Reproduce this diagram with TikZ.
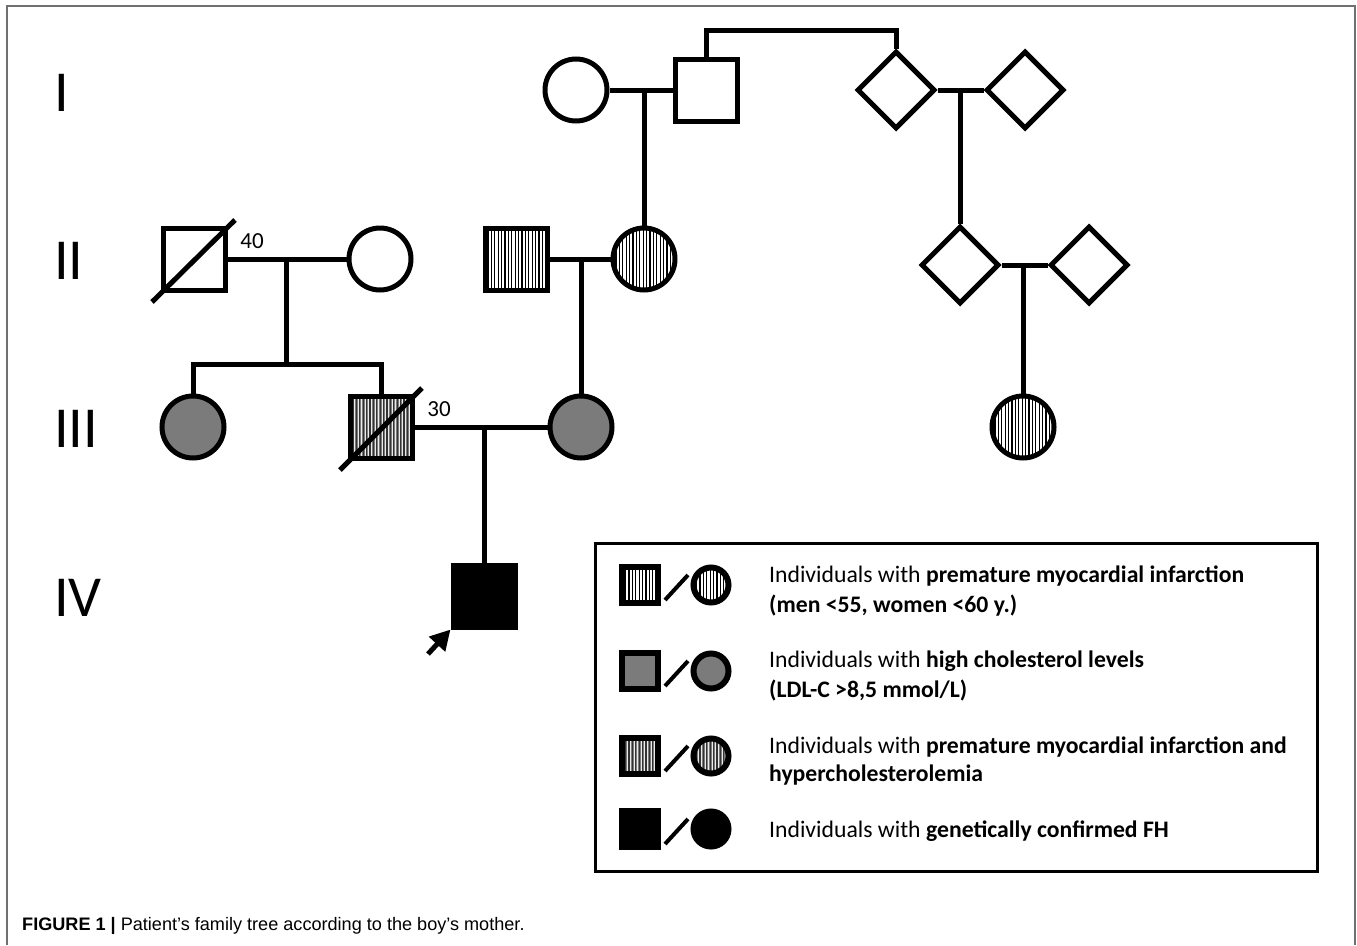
\documentclass[tikz,border=0pt]{standalone}
\usepackage{fontspec}
\setmainfont{Carlito}
\newfontfamily\capfont{Liberation Sans}
\usetikzlibrary{shapes.geometric,arrows.meta}
\definecolor{pgray}{HTML}{7B7B7B}
\definecolor{framegray}{HTML}{707070}
\begin{document}
\begin{tikzpicture}[x=1pt,y=-1pt,
  lw/.style={line width=5pt},
  male/.style={rectangle,draw,line width=5pt,minimum size=62pt,inner sep=0pt,fill=white},
  female/.style={circle,draw,line width=5pt,minimum size=62pt,inner sep=0pt,fill=white},
  unk/.style={diamond,draw,line width=5pt,aspect=1,minimum width=78pt,minimum height=78pt,inner sep=0pt,fill=white},
  stripes/.style={path picture={\foreach \i in {-45,-41.6,...,45} \draw[line width=1.1pt,black] ([xshift=\i pt]path picture bounding box.north) -- ([xshift=\i pt]path picture bounding box.south);}},
  gstripes/.style={fill=pgray,path picture={\foreach \i in {-45,-41.6,...,45} {\draw[line width=1.1pt,black!80] ([xshift=\i pt]path picture bounding box.north) -- ([xshift=\i pt]path picture bounding box.south);
     \draw[line width=0.6pt,white!85!pgray] ([xshift=\i pt+1.7pt]path picture bounding box.north) -- ([xshift=\i pt+1.7pt]path picture bounding box.south);}}},
  lsq/.style={rectangle,draw,line width=6pt,minimum size=36pt,inner sep=0pt,fill=white},
  lci/.style={circle,draw,line width=6pt,minimum size=35pt,inner sep=0pt,fill=white},
  lslash/.style={line width=4pt},
  gen/.style={anchor=west,inner sep=0pt,font=\fontsize{58}{60}\selectfont},
  age/.style={anchor=center,inner sep=0pt,font=\fontsize{23}{26}\selectfont},
  legtxt/.style={anchor=base west,inner sep=0pt,font=\fontsize{23.7}{28}\selectfont},
  dslash/.style={line width=5pt}
]
\useasboundingbox (0,0) rectangle (1357,945);
% frame
\coordinate (fa) at (7,945);
\coordinate (fb) at (7,6);
\coordinate (fc) at (1355,6);
\coordinate (fd) at (1355,945);
\draw[framegray,line width=2pt] (fa) -- (fb) -- (fc) -- (fd);

% generation labels
\node[gen] (gI) at (54,93) {I};
\node[gen] (gII) at (54,261) {II};
\node[gen] (gIII) at (54,429) {III};
\node[gen] (gIV) at (54,598) {IV};

\coordinate (t1) at (800,30);
\coordinate (m2) at (286,259);
\coordinate (sib2) at (286,364);

% Generation I
\node[female] (c11) at (576,90) {};
\node[male] (s12) at (706,90) {};
\node[unk] (d13) at (896,90) {};
\node[unk] (d14) at (1025,90) {};
% Generation II
\node[male] (s21) at (194,259) {};
\node[female] (c22) at (380,259) {};
\node[male,stripes] (s23) at (516,259) {};
\node[female,stripes] (c24) at (644,259) {};
\node[unk] (d25) at (960,265) {};
\node[unk] (d26) at (1089,265) {};
% Generation III
\node[female,fill=pgray] (c31) at (193,427) {};
\node[male,gstripes] (s32) at (381,427) {};
\node[female,fill=pgray] (c33) at (581,427) {};
\node[female,stripes] (c34) at (1023,427) {};
% Generation IV
\node[male,fill=black] (p) at (484,596) {};

% marriages and descent
\draw[lw] (c11.east) -- (s12.west);
\draw[lw] (c24.north) -- (c24.north |- c11.east);
\draw[lw] (s12.north) |- (t1) -| (d13.north);
\draw[lw] (d13.east) -- (d14.west);
\draw[lw] (d25.north) -- (d25.north |- d13.east);

\draw[lw] (s21.east) -- (c22.west);
\draw[lw] (m2) -- (sib2);
\draw[lw] (c31.north) |- (sib2) -| (s32.north);
\draw[lw] (s23.east) -- (c24.west);
\draw[lw] (c33.north) -- (c33.north |- s23.east);
\draw[lw] (d25.east) -- (d26.west);
\draw[lw] (c34.north) -- (c34.north |- d25.east);

\draw[lw] (s32.east) -- (c33.west);
\draw[lw] (p.north) -- (p.north |- c33.west);

% deceased
\draw[dslash] ([shift={(-42,43)}]s21.center) -- ([shift={(41,-39)}]s21.center);
\draw[dslash] ([shift={(-41,43)}]s32.center) -- ([shift={(41,-39)}]s32.center);
\node[age] (a40) at (252,241) {40};
\node[age] (a30) at (439,409) {30};

% proband arrow
\coordinate (pa) at (428,654);
\draw[line width=5pt,-{Triangle[length=20pt,width=21pt]}] (pa) -- (p.south west);

% legend
\node[draw,line width=3pt,minimum width=722pt,minimum height=328pt,inner sep=0pt] (leg) at (956,707.5) {};

\node[lsq,stripes] (l1s) at (640,585) {};
\node[lci,stripes] (l1c) at (711,585) {};
\draw[lslash] ([shift={(-46,15)}]l1c.center) -- ([shift={(-23,-10)}]l1c.center);
\node[legtxt] (t1a) at (769,582) {Individuals with \textbf{premature myocardial infarction}};
\node[legtxt] (t1b) at (769,612) {\textbf{(men <55, women <60 y.)}};

\node[lsq,fill=pgray] (l2s) at (640,671) {};
\node[lci,fill=pgray] (l2c) at (711,671) {};
\draw[lslash] ([shift={(-46,15)}]l2c.center) -- ([shift={(-23,-10)}]l2c.center);
\node[legtxt] (t2a) at (769,667) {Individuals with \textbf{high cholesterol levels}};
\node[legtxt] (t2b) at (769,697) {\textbf{(LDL-C >8,5 mmol/L)}};

\node[lsq,gstripes] (l3s) at (640,756) {};
\node[lci,gstripes] (l3c) at (711,756) {};
\draw[lslash] ([shift={(-46,15)}]l3c.center) -- ([shift={(-23,-10)}]l3c.center);
\node[legtxt] (t3a) at (769,753) {Individuals with \textbf{premature myocardial infarction and}};
\node[legtxt] (t3b) at (769,781) {\textbf{hypercholesterolemia}};

\node[lsq,fill=black] (l4s) at (640,829) {};
\node[lci,fill=black] (l4c) at (711,829) {};
\draw[lslash] ([shift={(-46,15)}]l4c.center) -- ([shift={(-23,-10)}]l4c.center);
\node[legtxt] (t4a) at (769,837) {Individuals with \textbf{genetically confirmed FH}};

% caption
\node[anchor=base west,inner sep=0pt,font=\capfont\fontsize{18.1}{22}\selectfont] (cap) at (22,930) {{\bfseries FIGURE 1 |} Patient’s family tree according to the boy’s mother.};
\end{tikzpicture}
\end{document}
